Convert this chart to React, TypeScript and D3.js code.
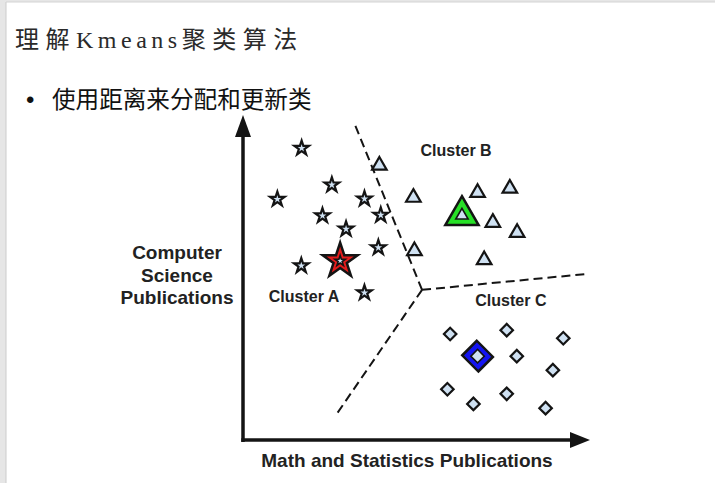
import React from 'react'
import * as d3 from 'd3'

const W = 715
const H = 483

// all positions in axis units (0..100 on both axes)
const starX = [16.9, 25.6, 9.9, 35.0, 22.9, 39.7, 29.7, 39.0, 16.8, 35.0]
const starY = [89.8, 78.5, 74.1, 74.2, 69.0, 69.2, 64.9, 59.2, 53.6, 45.3]
const triX = [39.3, 49.1, 67.6, 76.9, 72.0, 79.0, 49.4, 69.5]
const triY = [84.5, 74.6, 76.1, 77.4, 66.9, 63.8, 58.2, 55.4]
const diaX = [59.7, 76.0, 92.3, 78.9, 89.3, 58.9, 66.4, 76.0, 87.2]
const diaY = [32.6, 33.8, 31.3, 25.8, 21.5, 15.6, 11.1, 14.2, 9.8]

const centroidX = [28.0, 63.1, 67.6]
const centroidY = [55.1, 69.1, 25.8]
const centroidColors = ['#e41c1c', '#27e027', '#1414f0']

const clusterNames = ['Cluster A', 'Cluster B', 'Cluster C']
const clusterLabelX = [17.6, 61.4, 77.2]
const clusterLabelY = [42.5, 87.4, 41.2]

// boundary junction first, then the three ends
const boundaryX = [51.6, 32.3, 27.2, 99.1]
const boundaryY = [46.2, 96.9, 8.3, 51.1]

const yTitleLines = ['Computer', 'Science', 'Publications']
const xTitle = 'Math and Statistics Publications'

const pointFill = '#cfe1f2'
const ink = '#141414'

function App () {
  const x = d3.scaleLinear().domain([0, 100]).range([243, 590])
  const y = d3.scaleLinear().domain([0, 100]).range([440, 115])

  const star = (s: number) => d3.symbol(d3.symbolStar, s)() as string
  const tri = (s: number) => d3.symbol(d3.symbolTriangle, s)() as string
  const sq = (s: number) => d3.symbol(d3.symbolSquare, s)() as string

  const x0 = x(0)
  const y0 = y(0)
  const font = "'Liberation Sans', Arial, sans-serif"

  return (
    <svg width={W} height={H} style={{ position: 'fixed', left: 0, top: 0 }}>
      <rect width={W} height={H} fill='#e6e6e6' />
      <rect x={6} y={2} width={W - 6} height={H - 2} fill='#fff' />
      <line x1={6} x2={6} y1={2} y2={H} stroke='#cccccc' />
      <line x1={6} x2={W} y1={2} y2={2} stroke='#d4d4d4' />

      <text x={15} y={48} fontSize={24} fill='#2a2a2a' fontFamily="'Noto Sans CJK SC'">
        <tspan letterSpacing={6.5}>理解</tspan>
        <tspan fontFamily="'Liberation Serif', serif" letterSpacing={4.5}>Kmeans</tspan>
        <tspan letterSpacing={6.5}>聚类算法</tspan>
      </text>
      <text x={26} y={108} fontSize={24} fill='#111' fontFamily={font}>•</text>
      <text x={52} y={108} fontSize={23.6} fill='#111' fontFamily="'Noto Sans CJK SC'">使用距离来分配和更新类</text>

      {/* axes */}
      <line x1={x0} x2={x0} y1={y0 + 2} y2={y(100) + 18} stroke={ink} strokeWidth={3.5} />
      <path d={`M${x0},${y(100)}L${x0 - 8},${y(100) + 22}L${x0 + 8},${y(100) + 22}Z`} fill={ink} />
      <line x1={x0 - 1.7} x2={x(100) - 18} y1={y0} y2={y0} stroke={ink} strokeWidth={3.5} />
      <path d={`M${x(100)},${y0}L${x(100) - 20},${y0 - 8}L${x(100) - 20},${y0 + 8}Z`} fill={ink} />

      {/* boundaries */}
      {[1, 2, 3].map(i => (
        <line key={i} x1={x(boundaryX[0])} y1={y(boundaryY[0])} x2={x(boundaryX[i])} y2={y(boundaryY[i])}
          stroke={ink} strokeWidth={2} strokeDasharray='9,5' />
      ))}

      {/* points */}
      {starX.map((v, i) => (
        <path key={'s' + i} d={star(66)} transform={`translate(${x(v)},${y(starY[i])})`}
          fill={pointFill} stroke={ink} strokeWidth={2.2} />
      ))}
      {triX.map((v, i) => (
        <path key={'t' + i} d={tri(92)} transform={`translate(${x(v)},${y(triY[i])})`}
          fill={pointFill} stroke={ink} strokeWidth={2.2} />
      ))}
      {diaX.map((v, i) => (
        <path key={'d' + i} d={sq(78)} transform={`translate(${x(v)},${y(diaY[i])}) rotate(45)`}
          fill={pointFill} stroke={ink} strokeWidth={2.2} />
      ))}

      {/* centroids */}
      <g transform={`translate(${x(centroidX[0])},${y(centroidY[0])})`}>
        <path d={star(380)} fill={centroidColors[0]} stroke={ink} strokeWidth={2.5} />
        <path d={star(34)} fill={pointFill} stroke={ink} strokeWidth={1.6} />
      </g>
      <g transform={`translate(${x(centroidX[1])},${y(centroidY[1])})`}>
        <path d={tri(480)} fill={centroidColors[1]} stroke={ink} strokeWidth={2.5} />
        <path d={tri(66)} fill={pointFill} stroke={ink} strokeWidth={1.6} />
      </g>
      <g transform={`translate(${x(centroidX[2])},${y(centroidY[2])})`}>
        <path d={sq(470)} transform='rotate(45) scale(1.05,0.95)' fill={centroidColors[2]} stroke={ink} strokeWidth={2.5} />
        <path d={sq(90)} transform='rotate(45)' fill={pointFill} stroke={ink} strokeWidth={1.6} />
      </g>

      {/* labels */}
      {clusterNames.map((n, i) => (
        <text key={n} x={x(clusterLabelX[i])} y={y(clusterLabelY[i])} textAnchor='middle'
          fontFamily={font} fontWeight='bold' fontSize={16} fill='#222'>{n}</text>
      ))}
      {yTitleLines.map((t, i) => (
        <text key={t} x={177} y={259 + i * 22.5} textAnchor='middle'
          fontFamily={font} fontWeight='bold' fontSize={19} fill='#222'>{t}</text>
      ))}
      <text x={407} y={467} textAnchor='middle'
        fontFamily={font} fontWeight='bold' fontSize={19} fill='#222'>{xTitle}</text>
    </svg>
  )
}

export default App
